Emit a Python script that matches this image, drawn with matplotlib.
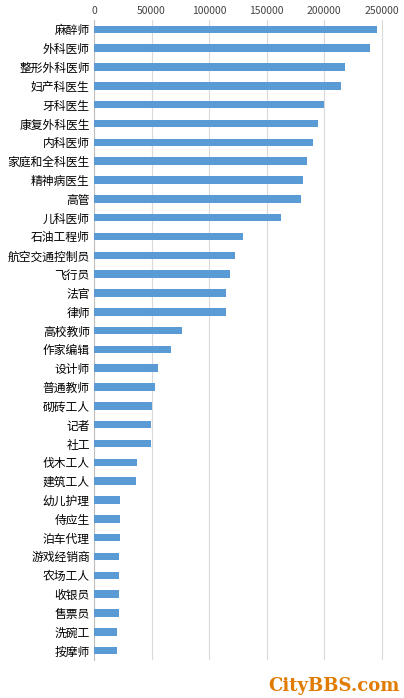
import matplotlib
matplotlib.use("Agg")
import matplotlib.pyplot as plt

plt.rcParams['font.family'] = ['Noto Sans CJK SC', 'DejaVu Sans']

jobs = ["麻醉师","外科医师","整形外科医师","妇产科医生","牙科医生","康复外科医生","内科医师","家庭和全科医生",
        "精神病医生","高管","儿科医师","石油工程师","航空交通控制员","飞行员","法官","律师","高校教师","作家编辑",
        "设计师","普通教师","砌砖工人","记者","社工","伐木工人","建筑工人","幼儿护理","侍应生","泊车代理",
        "游戏经销商","农场工人","收银员","售票员","洗碗工","按摩师"]
salaries = [245600,239500,218600,214300,200300,194300,190000,185500,
            182000,180300,162900,129800,122800,118500,115000,115000,76700,67100,
            55700,53100,50500,49700,49700,37500,36600,22600,22400,22300,
            21800,21700,21700,21600,20000,19900]
ticks = [0,50000,100000,150000,200000,250000]

fig = plt.figure(figsize=(4.04,6.98), dpi=100)
ax = fig.add_axes([94/404, 38/698, 306/404, 640/698])
y = range(len(jobs))
ax.barh(y, salaries, height=0.4, color='#5b9bd5', zorder=3)
ax.set_ylim(len(jobs)-0.5, -0.5)
ax.set_xlim(0, 266000)
ax.set_xticks(ticks)
ax.set_xticklabels([str(t) for t in ticks], fontsize=7.5, color='#444444')
ax.xaxis.tick_top()
ax.set_yticks(list(y))
ax.set_yticklabels(jobs, fontsize=8.5)
ax.tick_params(length=0, pad=3)
ax.grid(axis='x', color='#d9d9d9', lw=0.8, zorder=0)
for s in ['top','right','bottom']:
    ax.spines[s].set_visible(False)
ax.spines['left'].set_color('#bfbfbf')
fig.text(0.99, 0.005, "CityBBS.com", ha='right', va='bottom', fontsize=13,
         color='#e07b00', fontweight='bold', family=['DejaVu Serif'])
fig.savefig("out.png", dpi=100)
